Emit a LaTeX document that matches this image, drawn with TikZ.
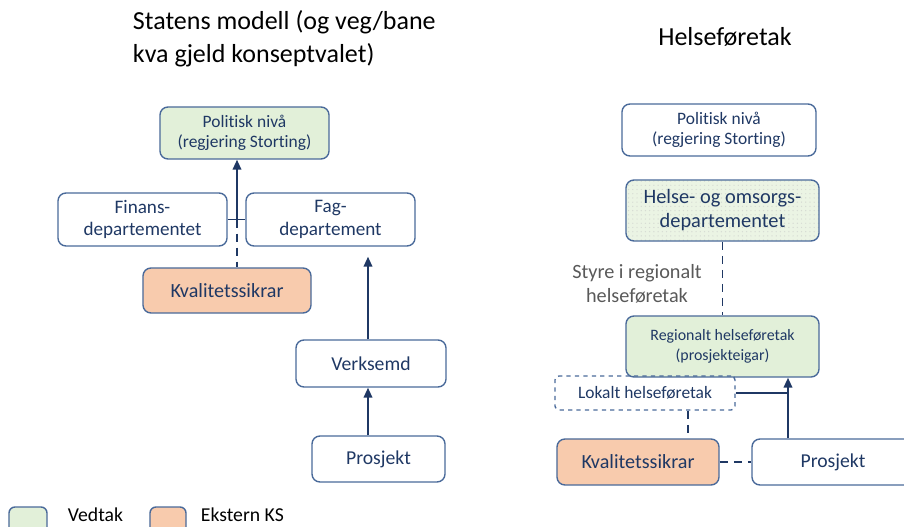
\documentclass[tikz,border=0pt]{standalone}
\usepackage{fontspec}
\setmainfont{Carlito}[Ligatures=NoCommon]
\usetikzlibrary{arrows.meta,patterns}
\definecolor{boxline}{HTML}{4A6A9A}
\definecolor{navy}{HTML}{1F3864}
\definecolor{vedtak}{HTML}{E2F0D9}
\definecolor{ekstern}{HTML}{F8CBAD}
\definecolor{styre}{HTML}{595959}
\tikzset{
  box/.style={draw=boxline, line width=1pt, rounded corners=0.2cm, align=center, text=navy, inner sep=2pt},
  arr/.style={draw=navy, line width=1.4pt, -{Triangle[length=7pt,width=6pt]}},
  link/.style={draw=navy, line width=1.4pt},
  dlink/.style={draw=navy, line width=1.4pt, dash pattern=on 6pt off 4pt},
}
\begin{document}
\begin{tikzpicture}[x=0.025cm,y=-0.025cm]
  \useasboundingbox (0,0) rectangle (904,527);
  %% titles
  \node[anchor=north west, align=left, font=\fontsize{18.5}{22.8}\selectfont] (titleL) at (128,6)
    {Statens modell (og veg/bane\\kva gjeld konseptvalet)};
  \node[font=\fontsize{18.5}{22.8}\selectfont] (titleR) at (725,37) {Helseføretak};

  %% statens modell
  \node[box, fill=vedtak, minimum width=4.225cm, minimum height=1.3cm, font=\fontsize{12.4}{14.5}\selectfont] (polL) at (244.5,133) {Politisk nivå\\(regjering Storting)};
  \node[box, minimum width=4.225cm, minimum height=1.325cm, font=\fontsize{13.6}{16}\selectfont] (finans) at (142.5,219.5) {Finans-\\departementet};
  \node[box, minimum width=4.225cm, minimum height=1.325cm, font=\fontsize{13.6}{16}\selectfont] (fag) at (330.5,219.5) {Fag-\\departement};
  \node[box, fill=ekstern, minimum width=4.2cm, minimum height=1.125cm, font=\fontsize{14.3}{16}\selectfont] (ksL) at (227,290.5) {Kvalitetssikrar};
  \node[box, minimum width=3.75cm, minimum height=1.175cm, font=\fontsize{14}{16}\selectfont] (verks) at (371,363.5) {Verksemd};
  \node[box, minimum width=3.325cm, minimum height=1.15cm, font=\fontsize{14}{16}\selectfont] (prosL) at (378.5,459) {Prosjekt};
  \coordinate (jL) at (237,219.5);
  \coordinate (colL) at (368,0);
  \draw[link] (finans.east) -- (fag.west);
  \draw[arr] (jL) -- (polL.south -| jL);
  \draw[dlink] (jL) -- (ksL.north -| jL);
  \draw[arr] (prosL.north -| colL) -- (verks.south -| colL);
  \draw[arr, shorten >=0.25cm] (verks.north -| colL) -- (fag.south -| colL);

  %% helseforetak
  \node[box, minimum width=4.85cm, minimum height=1.3cm, font=\fontsize{12.4}{14.5}\selectfont] (polR) at (719,130) {Politisk nivå\\(regjering Storting)};
  \node[box, preaction={fill=vedtak!70}, pattern=dots, pattern color=vedtak!60!gray!60, minimum width=4.825cm, minimum height=1.525cm, font=\fontsize{14.5}{17}\selectfont] (hod) at (722.5,210.5) {Helse- og omsorgs-\\departementet};
  \node[align=center, text=styre, font=\fontsize{14.4}{17}\selectfont] (styre) at (637,284) {Styre i regionalt\\helseføretak};
  \node[box, fill=vedtak, minimum width=4.825cm, minimum height=1.525cm, font=\fontsize{11.3}{14}\selectfont] (reg) at (722.5,346.5) {Regionalt helseføretak\\(prosjekteigar)};
  \node[box, dashed, rounded corners=0.1cm, minimum width=4.5cm, minimum height=0.85cm, font=\fontsize{12.4}{14}\selectfont] (lok) at (645,393) {Lokalt helseføretak};
  \node[box, fill=ekstern, minimum width=4.05cm, minimum height=1.15cm, font=\fontsize{14.3}{16}\selectfont] (ksR) at (638,462) {Kvalitetssikrar};
  \node[box, fill=white, minimum width=4.05cm, minimum height=1.15cm, font=\fontsize{14}{16}\selectfont] (prosR) at (833,462) {Prosjekt};
  \coordinate (colR) at (788,0);
  \coordinate (dR) at (688,0);
  \draw[dlink] (hod.south) -- (reg.north);
  \draw[arr] (prosR.north -| colR) -- (reg.south -| colR);
  \draw[link] (lok.east) -- (lok.east -| colR);
  \draw[dlink] (lok.south -| dR) -- (ksR.north -| dR);
  \draw[dlink] (ksR.east) -- (prosR.west);

  %% legend
  \node[box, fill=vedtak, rounded corners=0.15cm, minimum width=0.95cm, minimum height=0.65cm] (legV) at (28,520) {};
  \node[anchor=west, font=\fontsize{14}{16}\selectfont] (legVt) at (63,515) {Vedtak};
  \node[box, fill=ekstern, rounded corners=0.15cm, minimum width=0.9cm, minimum height=0.65cm] (legE) at (168,520) {};
  \node[anchor=west, font=\fontsize{14}{16}\selectfont] (legEt) at (196,515) {Ekstern KS};
\end{tikzpicture}
\end{document}
